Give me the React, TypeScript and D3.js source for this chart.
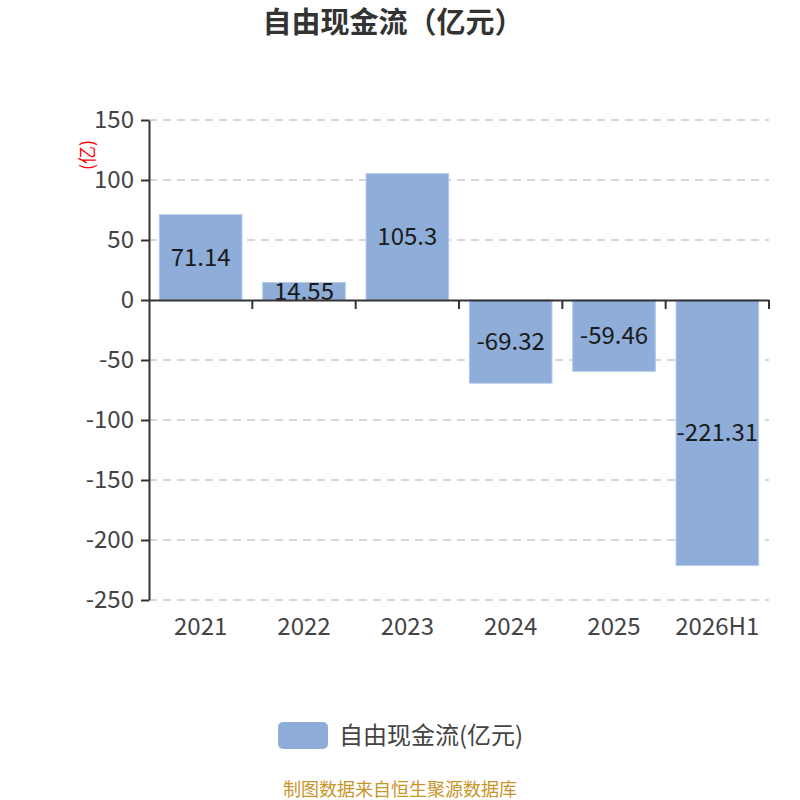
import { useEffect, useRef } from 'react';
import * as d3 from 'd3';

const years = ['2021', '2022', '2023', '2024', '2025', '2026H1'];
const cashFlow = [71.14, 14.55, 105.3, -69.32, -59.46, -221.31];
const yTicks = [150, 100, 50, 0, -50, -100, -150, -200, -250];

const FONT = '"Noto Sans CJK SC", "Noto Sans", sans-serif';

const App = () => {
    const ref = useRef<SVGSVGElement>(null);

    useEffect(() => {
        const svg = d3.select(ref.current);
        svg.selectAll('*').remove();
        const width = 800;
        const height = 800;
        const margin = { top: 120, right: 31, bottom: 200, left: 149 };

        const x = d3.scaleBand()
            .domain(years)
            .range([margin.left, width - margin.right])
            .paddingInner(0.2)
            .paddingOuter(0.1);

        const y = d3.scaleLinear()
            .domain([-250, 150])
            .range([height - margin.bottom, margin.top]);

        // title
        svg.append('text')
            .attr('x', 393).attr('y', 33)
            .attr('text-anchor', 'middle')
            .attr('font-family', FONT)
            .attr('font-size', 29).attr('font-weight', 'bold')
            .attr('fill', '#333')
            .text('自由现金流（亿元）');

        // grid
        svg.append('g')
            .selectAll('line').data(yTicks.filter(d => d !== 0)).enter().append('line')
            .attr('x1', margin.left).attr('x2', width - margin.right)
            .attr('y1', d => y(d)).attr('y2', d => y(d))
            .attr('stroke', '#ccc').attr('stroke-width', 1.5)
            .attr('stroke-dasharray', '8,6');

        // bars
        svg.append('g')
            .selectAll('rect').data(cashFlow).enter().append('rect')
            .attr('x', (d, i) => x(years[i]))
            .attr('y', d => y(Math.max(0, d)))
            .attr('width', x.bandwidth())
            .attr('height', d => Math.abs(y(d) - y(0)))
            .attr('fill', '#8eadd9')
            .attr('stroke', '#b7cbe8').attr('stroke-width', 1);

        // value labels
        svg.append('g')
            .selectAll('text').data(cashFlow).enter().append('text')
            .attr('x', (d, i) => x(years[i]) + x.bandwidth() / 2)
            .attr('y', d => (y(d) + y(0)) / 2)
            .attr('dy', '0.35em')
            .attr('text-anchor', 'middle')
            .attr('font-family', FONT)
            .attr('font-size', 24)
            .attr('fill', '#1a1a1a')
            .text(d => String(d));

        // y axis
        const yAxis = svg.append('g')
            .attr('transform', `translate(${margin.left},0)`)
            .call(d3.axisLeft(y).tickValues(yTicks).tickFormat(d => String(d))
                .tickSize(8).tickPadding(7).tickSizeOuter(0));
        yAxis.select('.domain').attr('stroke', '#333').attr('stroke-width', 2);
        yAxis.selectAll('.tick line').attr('stroke', '#333').attr('stroke-width', 2);
        yAxis.selectAll('.tick text')
            .attr('font-family', FONT).attr('font-size', 24).attr('fill', '#444');

        // x axis at zero
        const xAxis = svg.append('g')
            .attr('transform', `translate(0,${y(0)})`)
            .call(d3.axisBottom(x).tickSize(0).tickSizeOuter(0));
        xAxis.select('.domain').attr('stroke', '#333').attr('stroke-width', 2);
        xAxis.selectAll('.tick text').remove();

        const boundaries = years.map((d, i) => margin.left + i * x.step()).concat([width - margin.right]);
        xAxis.selectAll('.bound').data(boundaries.slice(1)).enter().append('line')
            .attr('x1', d => d).attr('x2', d => d)
            .attr('y1', 0).attr('y2', 9)
            .attr('stroke', '#333').attr('stroke-width', 2);

        // category labels at bottom
        svg.append('g')
            .selectAll('text').data(years).enter().append('text')
            .attr('x', d => x(d) + x.bandwidth() / 2)
            .attr('y', height - margin.bottom + 35)
            .attr('text-anchor', 'middle')
            .attr('font-family', FONT)
            .attr('font-size', 24)
            .attr('fill', '#444')
            .text(d => d);

        // unit label
        svg.append('text')
            .attr('transform', `translate(94,155) rotate(-90)`)
            .attr('text-anchor', 'middle')
            .attr('font-family', FONT)
            .attr('font-size', 18)
            .attr('fill', 'red')
            .text('(亿)');

        // legend
        svg.append('rect')
            .attr('x', 278).attr('y', 722).attr('width', 50).attr('height', 27)
            .attr('rx', 5).attr('fill', '#8eadd9');
        svg.append('text')
            .attr('x', 339).attr('y', 744)
            .attr('font-family', FONT)
            .attr('font-size', 24)
            .attr('fill', '#444')
            .text('自由现金流(亿元)');

        // source
        svg.append('text')
            .attr('x', 400).attr('y', 796)
            .attr('text-anchor', 'middle')
            .attr('font-family', FONT)
            .attr('font-size', 18)
            .attr('fill', '#c8952a')
            .text('制图数据来自恒生聚源数据库');
    }, []);

    return (
        <svg ref={ref} width={800} height={800} style={{ position: 'absolute', left: 0, top: 0 }} />
    );
};

export default App;
